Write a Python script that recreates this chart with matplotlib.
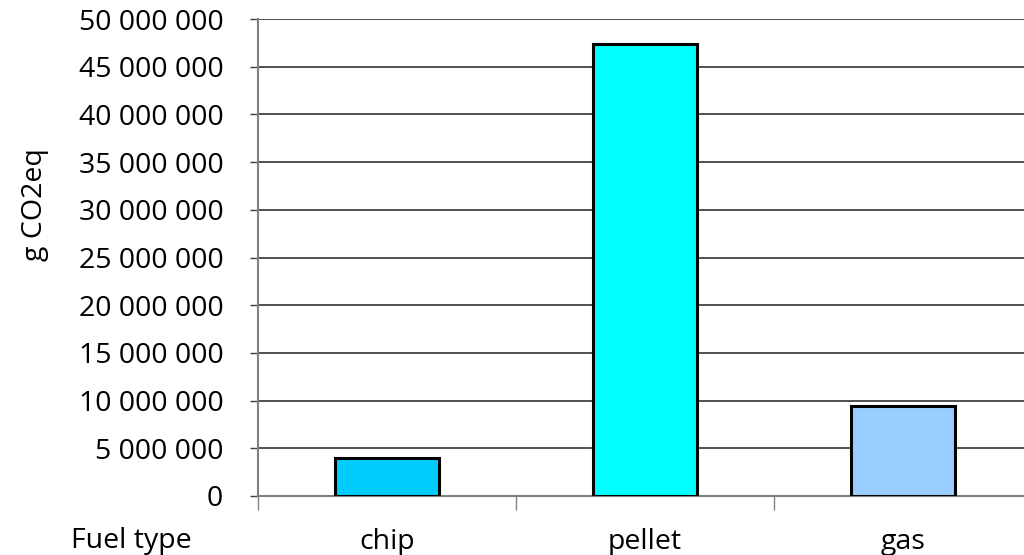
import matplotlib
matplotlib.use("Agg")
import matplotlib.pyplot as plt
import numpy as np

# Emissions by fuel type
categories = ["chip", "pellet", "gas"]
emissions = [4_000_000, 47_400_000, 9_450_000]
bar_colors = ["#00CCFF", "#00FFFF", "#99CCFF"]
y_ticks = list(range(0, 50_000_001, 5_000_000))

W, H = 1024, 555
fig = plt.figure(figsize=(W / 100, H / 100), dpi=100)
plt.rcParams["font.family"] = ["Open Sans", "DejaVu Sans"]
FS = 20.5

left, right, top, bottom = 258, 1032, 19, 496
ax = fig.add_axes([left / W, 1 - bottom / H, (right - left) / W, (bottom - top) / H])

x = np.arange(len(categories))
ax.bar(x, emissions, width=0.4, color=bar_colors, edgecolor="black",
       linewidth=2.2, zorder=3)

ax.set_xlim(-0.5, len(categories) - 0.5)
ax.set_ylim(0, 50_000_000)
ax.set_yticks(y_ticks)
ax.set_yticklabels([f"{v:,}".replace(",", " ") for v in y_ticks], fontsize=FS)

# Category boundaries carry the tick marks, labels sit centred between them
ax.set_xticks(np.arange(len(categories) + 1) - 0.5)
ax.set_xticklabels([])
ax.set_xticks(x, minor=True)
ax.set_xticklabels(categories, minor=True, fontsize=FS)
ax.tick_params(axis="x", which="major", length=10, color="#808080", width=1)
ax.tick_params(axis="x", which="minor", length=0, pad=23)
ax.tick_params(axis="y", length=6, color="#404040", width=1, pad=19)

ax.yaxis.grid(True, color="#222222", linewidth=1.1, zorder=0)
ax.set_axisbelow(True)
for side in ("top", "right"):
    ax.spines[side].set_visible(False)
for side in ("left", "bottom"):
    ax.spines[side].set_color("#808080")
    ax.spines[side].set_linewidth(1.5)

fig.text(131 / W, 1 - 541 / H, "Fuel type", fontsize=FS, ha="center", va="center")
fig.text(35 / W, 1 - 205 / H, "g CO2eq", fontsize=FS, ha="center", va="center",
         rotation=90)

fig.savefig("out.png", dpi=100)
